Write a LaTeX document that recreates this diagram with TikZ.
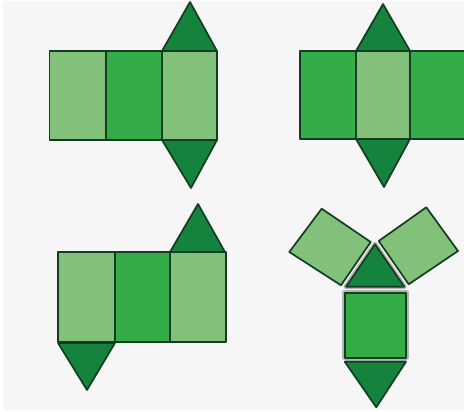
\documentclass[tikz,border=0pt]{standalone}
\definecolor{bgc}{HTML}{F6F6F7}
\definecolor{lightg}{HTML}{82C17A}
\definecolor{midg}{HTML}{34AD48}
\definecolor{darkg}{HTML}{15823D}
\definecolor{edgec}{HTML}{123D22}
\definecolor{halo}{HTML}{B4B4B0}
\tikzset{
  face/.style={draw=edgec,line width=1.7pt,line join=round},
  lightface/.style={face,fill=lightg},
  midface/.style={face,fill=midg},
  darkface/.style={face,fill=darkg},
  haloline/.style={draw=halo,line width=5pt,line join=round}
}
\begin{document}
\begin{tikzpicture}[x=1pt,y=-1pt]
\useasboundingbox (0,0) rectangle (464,412);
\fill[white] (0,0) rectangle (464,412);
\fill[bgc] (3,1.5) rectangle (464,410);
% net 1
\draw[darkface] (162,51) -- (190,2) -- (217,51) -- cycle;
\draw[darkface] (162,140) -- (191,188) -- (217,140) -- cycle;
\draw[lightface] (49.5,51) rectangle (106,140);
\draw[midface] (106,51) rectangle (162,140);
\draw[lightface] (162,51) rectangle (217,140);
% net 2
\draw[darkface] (356,51) -- (383,4) -- (410,51) -- cycle;
\draw[darkface] (356,139) -- (384,187) -- (410,139) -- cycle;
\draw[midface] (300,51) rectangle (356,139);
\draw[lightface] (356,51) rectangle (410,139);
\fill[midg] (410,51) rectangle (464,139);
\draw[edgec,line width=1.7pt] (464,51) -- (410,51) -- (410,139) -- (464,139);
% net 3
\draw[darkface] (170,252) -- (198,204) -- (225,252) -- cycle;
\draw[darkface] (58,343) -- (87,390) -- (115,343) -- cycle;
\draw[lightface] (58,252) rectangle (115,342);
\draw[midface] (115,252) rectangle (170,342);
\draw[lightface] (170,252) rectangle (226,342);
% net 4
\draw[lightface] (321.7,208.7) -- (370.7,242) -- (341,285.3) -- (289.3,252) -- cycle;
\draw[lightface] (426.3,207.3) -- (458,251) -- (408.7,284.3) -- (378.7,241) -- cycle;
\draw[haloline] (346,286.7) -- (375,244.3) -- (404.3,286.7) -- cycle;
\draw[haloline] (344.7,292.7) rectangle (406.3,357.7);
\draw[haloline] (344.7,361.7) -- (406,361.7);
\draw[darkface] (346,286.7) -- (375,244.3) -- (404.3,286.7) -- cycle;
\draw[midface] (344.7,292.7) rectangle (406.3,357.7);
\draw[darkface] (344.7,361.7) -- (376.3,407.3) -- (406,361.7) -- cycle;
\end{tikzpicture}
\end{document}
